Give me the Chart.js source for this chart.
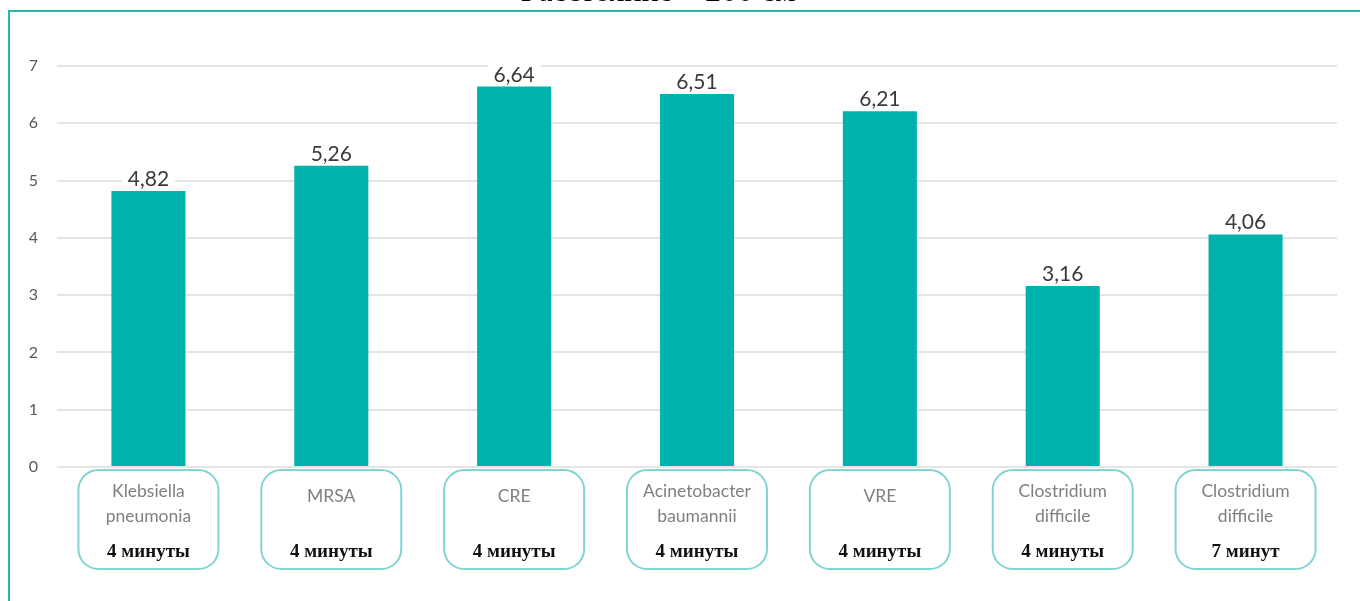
<!DOCTYPE html>
<html>
<head>
<meta charset="utf-8">
<script src="https://cdn.jsdelivr.net/npm/chart.js@4/dist/chart.umd.min.js"></script>
<style>
  html, body { margin: 0; padding: 0; background: #fff; overflow: hidden; }
  #wrap { position: relative; width: 1360px; height: 601px; }
  #frame {
    position: absolute; left: 8px; top: 10px; width: 1400px; height: 700px;
    border-top: 2px solid #2db6b0; border-left: 2px solid #2db6b0;
  }
  canvas { position: absolute; left: 0; top: 0; }
</style>
</head>
<body>
<div id="wrap">
  <div id="frame"></div>
  <canvas id="chart" width="1360" height="601"></canvas>
</div>
<script>
const title = 'Расстояние – 200 см';
const categories = [
  ['Klebsiella', 'pneumonia'],
  ['MRSA'],
  ['CRE'],
  ['Acinetobacter', 'baumannii'],
  ['VRE'],
  ['Clostridium', 'difficile'],
  ['Clostridium', 'difficile'],
];
const durations = ['4 минуты', '4 минуты', '4 минуты', '4 минуты', '4 минуты', '4 минуты', '7 минут'];
const values = [4.82, 5.26, 6.64, 6.51, 6.21, 3.16, 4.06];
const yMax = 7;

// value labels above the bars, with white backing that breaks the grid lines
const valueLabels = {
  id: 'valueLabels',
  afterDatasetsDraw(chart) {
    const ctx = chart.ctx;
    const meta = chart.getDatasetMeta(0);
    ctx.save();
    ctx.font = '21px Lato';
    ctx.textAlign = 'center';
    ctx.textBaseline = 'alphabetic';
    meta.data.forEach((bar, i) => {
      const txt = values[i].toFixed(2).replace('.', ',');
      const w = ctx.measureText(txt).width;
      ctx.fillStyle = '#fff';
      ctx.fillRect(bar.x - w / 2 - 6, bar.y - 24, w + 12, 20);
      ctx.fillStyle = '#3a3a3a';
      ctx.fillText(txt, bar.x, bar.y - 5);
    });
    ctx.restore();
  }
};

// rounded boxes under the axis with name and exposure time
const categoryBoxes = {
  id: 'categoryBoxes',
  afterDraw(chart) {
    const ctx = chart.ctx;
    const xs = chart.scales.x;
    ctx.save();
    // cut-off heading at the very top
    ctx.font = '32px "Liberation Serif"';
    ctx.fillStyle = '#000';
    ctx.textAlign = 'center';
    ctx.fillText(title, 658, 1);

    categories.forEach((lines, i) => {
      const x = xs.getPixelForValue(i);
      ctx.beginPath();
      ctx.roundRect(x - 70, 470, 140, 99, 20);
      ctx.strokeStyle = '#80d5d1';
      ctx.lineWidth = 2;
      ctx.stroke();

      ctx.font = '17.5px Lato';
      ctx.fillStyle = '#808080';
      ctx.textBaseline = 'middle';
      if (lines.length === 2) {
        ctx.fillText(lines[0], x, 491);
        ctx.fillText(lines[1], x, 516);
      } else {
        ctx.fillText(lines[0], x, 496);
      }
      ctx.font = 'bold 19px "Liberation Serif"';
      ctx.fillStyle = '#111';
      ctx.fillText(durations[i], x, 552);
    });
    ctx.restore();
  }
};

new Chart(document.getElementById('chart'), {
  type: 'bar',
  data: {
    labels: categories.map(l => l.join(' ')),
    datasets: [
      {
        data: values,
        backgroundColor: '#00b2ac',
        categoryPercentage: 1,
        barPercentage: 0.405,
      },
    ],
  },
  options: {
    responsive: false,
    animation: false,
    layout: { padding: { top: 66, right: 23, left: 0, bottom: 0 } },
    plugins: { legend: { display: false }, tooltip: { enabled: false } },
    scales: {
      x: {
        grid: { display: false },
        border: { display: false },
        ticks: { display: false },
        afterFit: (axis) => { axis.height = 134; },
      },
      y: {
        min: 0,
        max: yMax,
        ticks: { stepSize: 1, padding: 19, color: '#595959', font: { family: 'Lato', size: 16 } },
        grid: { color: '#e4e4e4', lineWidth: 2, drawTicks: false },
        border: { display: false },
        afterFit: (axis) => { axis.width = 57; },
      },
    },
  },
  plugins: [valueLabels, categoryBoxes],
});
</script>
</body>
</html>
